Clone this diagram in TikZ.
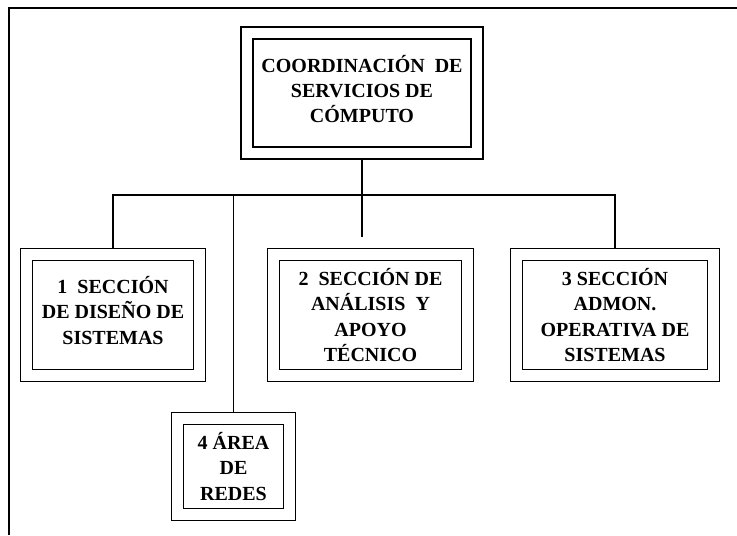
\documentclass[tikz,border=0pt]{standalone}
\usepackage{fontspec}
\setmainfont{Liberation Serif}
\usetikzlibrary{positioning}

\begin{document}
\begin{tikzpicture}[
      x=0.75pt, y=-0.75pt,
      unit/.style={rectangle, draw, line width=1.2pt, double, double distance=7.8pt,
                   outer sep=5.1pt, inner sep=0pt, align=center,
                   font=\fontsize{15}{19}\selectfont\bfseries},
      link/.style={draw, line width=1pt},
      frame/.style={draw, line width=2pt},
    ]
    \useasboundingbox (0,0) rectangle (737,535);
    \draw[frame] (737,8) -- (9,8) -- (9,535);

    \node[unit, minimum width=172.5pt, minimum height=90pt] (coord) at (362,93)
      {\fontsize{15}{20}\selectfont COORDINACIÓN \ DE\\SERVICIOS DE\\CÓMPUTO\\[-13pt]};
    \node[unit, minimum width=130pt, minimum height=91pt] (s1) at (113,315)
      {1 \ SECCIÓN\\DE DISEÑO DE\\SISTEMAS\\[-12pt]};
    \node[unit, minimum width=145.5pt, minimum height=91pt] (s2) at (370.5,315)
      {2 \ SECCIÓN DE\\ANÁLISIS \ Y\\APOYO\\TÉCNICO};
    \node[unit, minimum width=148pt, minimum height=91pt] (s3) at (615,315)
      {3 SECCIÓN\\ADMON.\\OPERATIVA DE\\SISTEMAS};
    \node[unit, minimum width=84pt, minimum height=72pt] (s4) at (233.5,466.5)
      {4 ÁREA\\DE\\REDES};

    \coordinate (bus) at (362,195);
    \draw[link, shorten >=8pt] (coord.south) -- (coord.south |- s2.north);
    \draw[link] (s1.north) |- (bus) -| (s3.north);
    \draw[link] (s4.north) -- (s4.north |- bus);
  \end{tikzpicture}
\end{document}
